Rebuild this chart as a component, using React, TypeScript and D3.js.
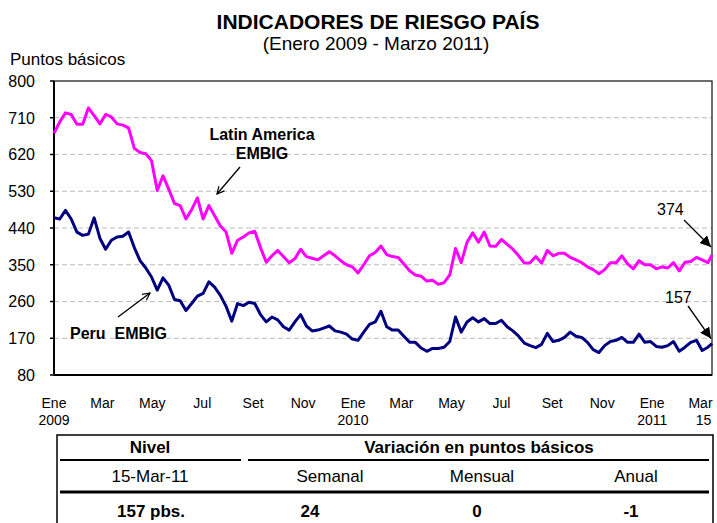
import React, { useRef, useEffect } from 'react';
import * as d3 from 'd3';

// weekly readings from 1 Jan 2009, last value = 15 Mar 2011
const latam = [
  672, 700, 722, 718, 694, 694, 734, 715, 695, 718, 712, 695, 692, 685, 635, 625, 622, 605, 532, 568,
  535, 500, 495, 462, 485, 514, 462, 495, 470, 445, 430, 378, 410, 418, 428, 432, 392, 356, 372, 385,
  370, 355, 365, 388, 370, 366, 362, 372, 382, 372, 360, 350, 345, 330, 350, 372, 380, 396, 375, 370,
  368, 352, 335, 325, 322, 310, 312, 302, 306, 325, 390, 355, 405, 428, 405, 430, 396, 395, 412, 400,
  388, 372, 354, 355, 370, 354, 385, 372, 378, 378, 368, 362, 355, 345, 338, 328, 338, 355, 355, 372,
  352, 340, 360, 350, 350, 340, 345, 342, 355, 335, 356, 358, 368, 362, 355, 374,
];
const peru = [
  465, 462, 483, 462, 430, 422, 425, 465, 415, 388, 410, 418, 420, 430, 392, 360, 342, 320, 288, 318,
  300, 265, 262, 238, 255, 273, 280, 308, 295, 275, 248, 212, 255, 250, 258, 255, 228, 210, 222, 215,
  198, 190, 210, 228, 200, 188, 190, 195, 200, 188, 185, 180, 168, 165, 185, 204, 210, 236, 198, 190,
  190, 175, 160, 160, 146, 138, 145, 145, 148, 162, 222, 185, 210, 220, 210, 218, 206, 206, 214, 198,
  188, 175, 158, 152, 147, 155, 182, 162, 165, 172, 185, 175, 172, 160, 142, 135, 152, 162, 165, 172,
  160, 160, 180, 160, 162, 150, 148, 152, 162, 138, 148, 160, 165, 140, 148, 157,
];
const yTicks = [80, 170, 260, 350, 440, 530, 620, 710, 800];
const monthLabels = ['Ene', 'Mar', 'May', 'Jul', 'Set', 'Nov', 'Ene', 'Mar', 'May', 'Jul', 'Set', 'Nov', 'Ene', 'Mar'];
const yearLabels = ['2009', '', '', '', '', '', '2010', '', '', '', '', '', '2011', '15'];
const headRow = ['Nivel', 'Variación en puntos básicos'];
const subRow = ['15-Mar-11', 'Semanal', 'Mensual', 'Anual'];
const valueRow = ['157 pbs.', '24', '0', '-1'];

const startDate = new Date(2009, 0, 1);
const endDate = new Date(2011, 2, 15);

const App = () => {
  const ref = useRef(null);

  useEffect(() => {
    const width = 717;
    const height = 523;
    const left = 54, right = 712, top = 81, bottom = 375;
    const font = '"Liberation Sans", Arial, sans-serif';

    const dates = d3.range(latam.length - 1).map(i => d3.timeDay.offset(startDate, 7 * i)).concat([endDate]);

    const x = d3.scaleTime().domain([startDate, endDate]).range([left, right]);
    const y = d3.scaleLinear().domain([80, 800]).range([bottom, top]);

    const svg = d3.select(ref.current);
    svg.selectAll('*').remove();
    svg.attr('width', width).attr('height', height).style('font-family', font);

    const defs = svg.append('defs');
    defs.append('marker')
      .attr('id', 'openArrow').attr('viewBox', '0 0 10 10').attr('refX', 9).attr('refY', 5)
      .attr('markerWidth', 9).attr('markerHeight', 9).attr('orient', 'auto').attr('markerUnits', 'userSpaceOnUse')
      .append('path').attr('d', 'M1,1 L9,5 L1,9').attr('fill', 'none').attr('stroke', '#000').attr('stroke-width', 1.3);
    defs.append('marker')
      .attr('id', 'fillArrow').attr('viewBox', '0 0 10 10').attr('refX', 10).attr('refY', 5)
      .attr('markerWidth', 11).attr('markerHeight', 11).attr('orient', 'auto').attr('markerUnits', 'userSpaceOnUse')
      .append('path').attr('d', 'M0,0 L10,5 L0,10 Z').attr('fill', '#000');

    // titles
    svg.append('text').attr('x', 378).attr('y', 29).attr('text-anchor', 'middle')
      .style('font-size', '21px').style('font-weight', 'bold').text('INDICADORES DE RIESGO PAÍS');
    svg.append('text').attr('x', 376).attr('y', 50).attr('text-anchor', 'middle')
      .style('font-size', '19px').text('(Enero 2009 - Marzo 2011)');
    svg.append('text').attr('x', 10).attr('y', 65).style('font-size', '17px').text('Puntos básicos');

    // grid
    svg.append('g').selectAll('line')
      .data(yTicks.filter(d => d !== 80 && d !== 800))
      .join('line')
      .attr('x1', left).attr('x2', right)
      .attr('y1', d => y(d)).attr('y2', d => y(d))
      .attr('stroke', '#bdbdbd').attr('stroke-width', 1.2).attr('stroke-dasharray', '5,3');

    // frame
    svg.append('rect').attr('x', left).attr('y', top).attr('width', right - left).attr('height', bottom - top)
      .attr('fill', 'none').attr('stroke', '#222').attr('stroke-width', 1.3);
    svg.append('line').attr('x1', left).attr('x2', left).attr('y1', top).attr('y2', bottom)
      .attr('stroke', '#000').attr('stroke-width', 2);
    svg.append('line').attr('x1', left).attr('x2', right).attr('y1', bottom).attr('y2', bottom)
      .attr('stroke', '#000').attr('stroke-width', 2);

    // y axis
    const yAxis = svg.append('g');
    yAxis.selectAll('line').data(yTicks).join('line')
      .attr('x1', left - 4).attr('x2', left).attr('y1', d => y(d)).attr('y2', d => y(d))
      .attr('stroke', '#000').attr('stroke-width', 1.5);
    yAxis.selectAll('text').data(yTicks).join('text')
      .attr('x', 35).attr('y', d => y(d)).attr('dy', '0.36em').attr('text-anchor', 'end')
      .style('font-size', '16px').text(d => d);

    // x labels
    const tickDates = d3.timeMonth.every(2).range(startDate, endDate);
    const xAxis = svg.append('g').style('font-size', '14px').attr('text-anchor', 'middle');
    xAxis.selectAll('text.m').data(tickDates).join('text').attr('class', 'm')
      .attr('x', d => x(d)).attr('y', 408).text((d, i) => monthLabels[i]);
    xAxis.selectAll('text.yr').data(tickDates).join('text').attr('class', 'yr')
      .attr('x', (d, i) => x(d) + (i === tickDates.length - 1 ? 3 : 0)).attr('y', 425).text((d, i) => yearLabels[i]);

    // lines
    const line = d3.line().x((d, i) => x(dates[i])).y(d => y(d)).curve(d3.curveLinear);
    svg.append('path').datum(latam).attr('d', line).attr('fill', 'none')
      .attr('stroke', '#ff00ff').attr('stroke-width', 3).attr('stroke-linejoin', 'round');
    svg.append('path').datum(peru).attr('d', line).attr('fill', 'none')
      .attr('stroke', '#000080').attr('stroke-width', 3).attr('stroke-linejoin', 'round');

    // annotations
    const lab = svg.append('g').style('font-size', '16px').style('font-weight', 'bold');
    lab.append('text').attr('x', 262).attr('y', 140).attr('text-anchor', 'middle').text('Latin America');
    lab.append('text').attr('x', 262).attr('y', 159).attr('text-anchor', 'middle').text('EMBIG');
    lab.append('text').attr('x', 70).attr('y', 339).style('white-space', 'pre').text('Peru  EMBIG');
    svg.append('line').attr('x1', 240).attr('y1', 167).attr('x2', 217).attr('y2', 194)
      .attr('stroke', '#000').attr('stroke-width', 1.3).attr('marker-end', 'url(#openArrow)');
    svg.append('line').attr('x1', 118).attr('y1', 317).attr('x2', 150).attr('y2', 293)
      .attr('stroke', '#000').attr('stroke-width', 1.3).attr('marker-end', 'url(#openArrow)');

    const lastL = latam[latam.length - 1];
    const lastP = peru[peru.length - 1];
    svg.append('text').attr('x', 657).attr('y', 215).style('font-size', '16px').text(lastL);
    svg.append('text').attr('x', 665).attr('y', 303).style('font-size', '16px').text(lastP);
    svg.append('line').attr('x1', 684).attr('y1', 220).attr('x2', x(endDate) - 1).attr('y2', y(lastL) - 8)
      .attr('stroke', '#000').attr('stroke-width', 1.3).attr('marker-end', 'url(#fillArrow)');
    svg.append('line').attr('x1', 688).attr('y1', 306).attr('x2', x(endDate) - 1).attr('y2', y(lastP) - 5)
      .attr('stroke', '#000').attr('stroke-width', 1.3).attr('marker-end', 'url(#fillArrow)');

    // table
    const tb = svg.append('g').style('font-size', '17px');
    tb.append('path').attr('d', 'M57,523 V435 H713 V523').attr('fill', 'none').attr('stroke', '#000').attr('stroke-width', 1.5);
    tb.append('line').attr('x1', 60).attr('x2', 241).attr('y1', 460).attr('y2', 460).attr('stroke', '#000').attr('stroke-width', 2);
    tb.append('line').attr('x1', 248).attr('x2', 709).attr('y1', 460).attr('y2', 460).attr('stroke', '#000').attr('stroke-width', 2);
    tb.append('line').attr('x1', 60).attr('x2', 709).attr('y1', 492).attr('y2', 492).attr('stroke', '#000').attr('stroke-width', 3);
    const headX = [150, 479];
    tb.selectAll('text.h').data(headRow).join('text').attr('class', 'h')
      .attr('x', (d, i) => headX[i]).attr('y', 453).attr('text-anchor', 'middle').style('font-weight', 'bold').text(d => d);
    const subX = [150, 330, 482, 636];
    tb.selectAll('text.s').data(subRow).join('text').attr('class', 's')
      .attr('x', (d, i) => subX[i]).attr('y', 482).attr('text-anchor', 'middle').text(d => d);
    const valX = [151, 310, 477, 631];
    tb.selectAll('text.v').data(valueRow).join('text').attr('class', 'v')
      .attr('x', (d, i) => valX[i]).attr('y', 517).attr('text-anchor', 'middle').style('font-weight', 'bold').text(d => d);
  }, []);

  return (
    <svg ref={ref} style={{ position: 'absolute', left: 0, top: 0, background: '#fff' }} />
  );
};

export default App;
